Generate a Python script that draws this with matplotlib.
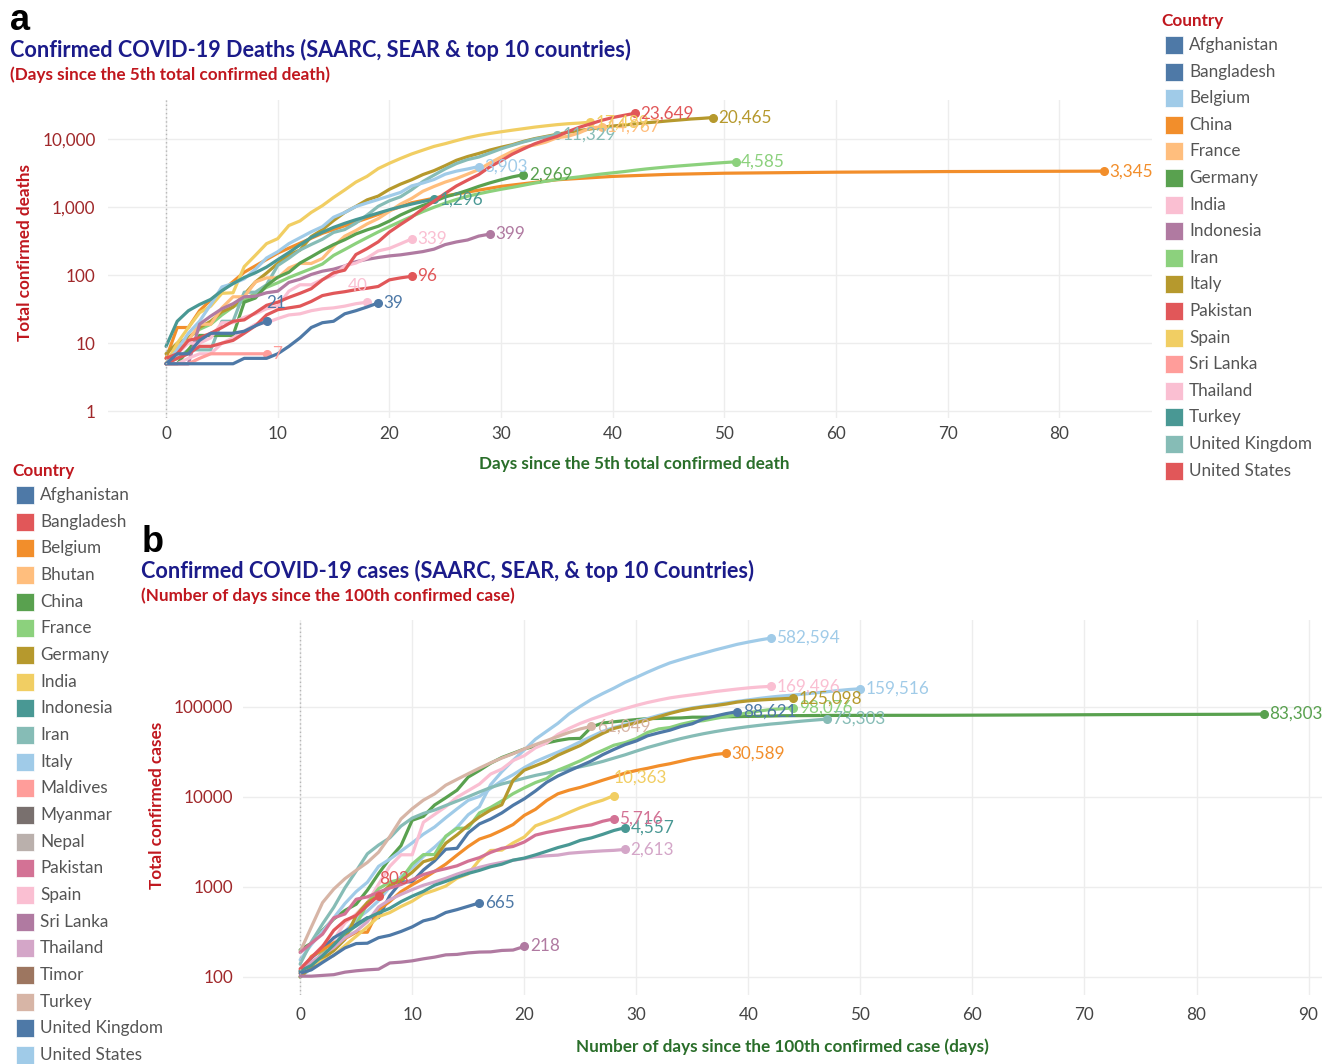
import matplotlib
matplotlib.use("Agg")
import matplotlib.pyplot as plt
from matplotlib.patches import Rectangle
from matplotlib.ticker import FixedLocator, NullLocator

plt.rcParams['font.family'] = ['Lato', 'DejaVu Sans']

W, H = 1326, 1064

# ---------------- panel a: deaths since 5th death ----------------
a_afghanistan = [5, 7, 7, 11, 14, 14, 14, 15, 18, 21]
a_bangladesh = [5, 5, 5, 5, 5, 5, 5, 6, 6, 6, 7, 9, 12, 17, 20, 21, 27, 30, 34, 39]
a_belgium = [5, 8, 14, 21, 37, 67, 75, 88, 122, 178, 220, 289, 353, 431, 513, 705, 828, 1011,
             1143, 1283, 1447, 1632, 2035, 2240, 2523, 3019, 3346, 3600, 3903]
a_china_days = [0, 1, 2, 3, 4, 6, 7, 10, 14, 18, 22, 25, 30, 35, 40, 45, 50, 60, 70, 84]
a_china = [6, 17, 17, 30, 43, 80, 110, 210, 410, 680, 1150, 1450, 2000, 2500, 2800, 3000, 3120,
           3230, 3300, 3345]
a_france = [5, 9, 11, 19, 19, 33, 48, 48, 79, 91, 91, 127, 148, 148, 175, 264, 372, 450, 562, 674,
            860, 1100, 1331, 1696, 1995, 2314, 2606, 3024, 3523, 4403, 5387, 6507, 7560, 8078,
            8911, 10328, 10869, 12210, 14393, 14967]
a_germany = [5, 5, 8, 13, 13, 13, 13, 40, 46, 70, 93, 110, 150, 185, 230, 280, 330, 400, 460, 520,
             620, 760, 900, 1050, 1200, 1400, 1550, 1750, 2000, 2250, 2500, 2750, 2969]
a_india = [5, 7, 10, 10, 12, 20, 20, 24, 27, 32, 35, 58, 72, 72, 86, 99, 136, 150, 178, 226, 246,
           288, 339]
a_indonesia = [5, 5, 5, 19, 25, 32, 38, 48, 49, 55, 58, 78, 87, 102, 114, 122, 136, 157, 170, 181,
               191, 198, 209, 221, 240, 280, 306, 327, 373, 399]
a_iran = [5, 8, 12, 16, 19, 26, 34, 43, 54, 66, 77, 92, 107, 124, 145, 194, 237, 291, 354, 429,
          514, 611, 724, 853, 988, 1135, 1284, 1433, 1556, 1685, 1812, 1934, 2077, 2234, 2378,
          2517, 2640, 2757, 2898, 3036, 3160, 3294, 3452, 3603, 3739, 3872, 3993, 4110, 4232,
          4357, 4474, 4585]
a_italy = [7, 10, 12, 17, 21, 29, 34, 52, 79, 107, 148, 197, 233, 366, 463, 631, 827, 1016, 1266,
           1441, 1809, 2158, 2503, 2978, 3405, 4032, 4825, 5476, 6077, 6820, 7503, 8165, 9134,
           10023, 10779, 11591, 12428, 13155, 13915, 14681, 15362, 15887, 16523, 17127, 17669,
           18279, 18849, 19468, 19899, 20465]
a_pakistan = [5, 6, 7, 9, 9, 10, 11, 14, 18, 26, 31, 33, 35, 41, 50, 54, 57, 61, 64, 68, 85, 91, 96]
a_spain = [5, 10, 17, 28, 35, 54, 55, 133, 195, 289, 342, 533, 623, 830, 1043, 1375, 1772, 2311,
           2808, 3647, 4365, 5138, 5982, 6803, 7716, 8464, 9387, 10348, 11198, 11947, 12641,
           13341, 14045, 14792, 15447, 16081, 16606, 16972, 17489]
a_sri_lanka = [5, 5, 5, 6, 7, 7, 7, 7, 7, 7]
a_thailand = [5, 5, 6, 7, 7, 10, 12, 15, 19, 20, 23, 26, 27, 30, 32, 33, 35, 38, 40]
a_turkey = [9, 21, 30, 37, 44, 59, 75, 92, 108, 131, 168, 214, 277, 356, 425, 501, 574, 649, 725,
            812, 908, 1006, 1101, 1198, 1296]
a_uk = [5, 6, 8, 8, 8, 21, 21, 56, 56, 72, 138, 177, 233, 281, 335, 422, 465, 578, 759, 1019,
        1228, 1408, 1789, 2357, 2926, 3611, 4320, 4943, 5385, 6171, 7111, 7993, 8958, 9875,
        10612, 11329]
a_us = [6, 7, 11, 12, 14, 17, 21, 22, 28, 36, 40, 47, 54, 63, 85, 108, 118, 200, 244, 307, 427,
        552, 706, 942, 1209, 1581, 2026, 2467, 2978, 3873, 4757, 5926, 7087, 8407, 9619, 10783,
        12722, 14695, 16478, 18586, 20463, 22020, 23649]

a_countries = ['Afghanistan', 'Bangladesh', 'Belgium', 'China', 'France', 'Germany', 'India',
               'Indonesia', 'Iran', 'Italy', 'Pakistan', 'Spain', 'Sri Lanka', 'Thailand',
               'Turkey', 'United Kingdom', 'United States']
a_colors = ['#4E79A7', '#4E79A7', '#A0CBE8', '#F28E2B', '#FFBE7D', '#59A14F', '#FABFD2',
            '#B07AA1', '#8CD17D', '#B6992D', '#E15759', '#F1CE63', '#FF9D9A', '#FABFD2',
            '#499894', '#86BCB6', '#E15759']

# ---------------- panel b: cases since 100th case ----------------
b_afghanistan = [110, 120, 145, 174, 210, 235, 237, 273, 290, 320, 360, 420, 450, 520, 560, 610, 665]
b_bangladesh = [123, 164, 218, 330, 424, 482, 621, 803]
b_belgium = [109, 169, 200, 239, 267, 314, 314, 559, 689, 886, 1058, 1243, 1486, 1795, 2257,
             2815, 3401, 3743, 4269, 4937, 6235, 7284, 9134, 10836, 11899, 12775, 13964, 15348,
             16770, 18431, 19691, 20814, 22194, 23403, 24983, 26667, 28018, 29647, 30589]
b_china_days = list(range(44)) + [47, 52, 57, 62, 67, 73, 78, 83, 86]
b_china = [200, 237, 330, 440, 548, 643, 920, 1406, 2075, 2877, 5509, 6087, 8141, 9802, 11891,
           16630, 19716, 23707, 27440, 30587, 34110, 36814, 39829, 42354, 44386, 44759, 59895,
           66358, 68413, 70513, 72434, 74211, 74619, 75077, 75550, 77001, 77022, 77241, 77754,
           78166, 78600, 78928, 79356, 79932,
           80537, 80757, 80860, 81250, 81661, 82279, 82602, 82941, 83303]
b_france = [100, 130, 191, 204, 288, 380, 656, 957, 1134, 1217, 1792, 2289, 2289, 3672, 4480,
            4513, 6650, 7652, 9043, 10871, 12612, 14459, 16018, 19856, 22304, 25233, 29155,
            32964, 37575, 40174, 44550, 52128, 56989, 59105, 64338, 68605, 70478, 74390, 78167,
            82048, 86334, 90276, 93790, 95403, 98076]
b_germany = [100, 130, 159, 196, 262, 482, 670, 799, 1040, 1176, 1457, 1908, 2078, 3062, 3795,
             4838, 6012, 7156, 8198, 15320, 19848, 22213, 24873, 29056, 32986, 37323, 43938,
             50871, 57695, 62095, 66885, 71808, 77872, 84794, 91159, 96092, 100123, 103374,
             107663, 113296, 117000, 119500, 121500, 123500, 125098]
b_india = [114, 137, 151, 173, 223, 283, 360, 468, 519, 606, 694, 834, 918, 1024, 1251, 1397,
           1998, 2543, 2567, 3082, 3588, 4778, 5311, 5916, 6725, 7598, 8446, 9205, 10363]
b_indonesia = [117, 134, 172, 227, 309, 369, 450, 514, 579, 686, 790, 893, 1046, 1155, 1285,
               1414, 1528, 1677, 1790, 1986, 2092, 2273, 2491, 2738, 2956, 3293, 3512, 3842,
               4241, 4557]
b_iran = [139, 245, 388, 593, 978, 1501, 2336, 2922, 3513, 4747, 5823, 6566, 7161, 8042, 9000,
          10075, 11364, 12729, 13938, 14991, 16169, 17361, 18407, 19644, 20610, 21638, 23049,
          24811, 27017, 29406, 32332, 35408, 38309, 41495, 44605, 47593, 50468, 53183, 55743,
          58226, 60500, 62589, 64586, 66220, 68192, 70029, 71686, 73303]
b_italy = [155, 229, 322, 453, 655, 888, 1128, 1694, 2036, 2502, 3089, 3858, 4636, 5883, 7375,
           9172, 10149, 12462, 15113, 17660, 21157, 24747, 27980, 31506, 35713, 41035, 47021,
           53578, 59138, 63927, 69176, 74386, 80589, 86498, 92472, 97689, 101739, 105792,
           110574, 115242, 119827, 124632, 128948, 132547, 135586, 139422, 143626, 147577,
           152271, 156363, 159516]
b_pakistan = [187, 237, 299, 454, 501, 730, 776, 875, 972, 1063, 1201, 1373, 1495, 1597, 1717,
              1938, 2118, 2421, 2686, 2818, 3157, 3766, 4035, 4263, 4489, 4695, 4892, 5374, 5716]
b_spain = [120, 165, 222, 259, 400, 500, 673, 1073, 1695, 2277, 2277, 5232, 6391, 7798, 9942,
           11748, 13910, 17963, 20410, 25374, 28768, 35136, 39885, 49515, 57786, 65719, 73235,
           80110, 87956, 95923, 104118, 112065, 119199, 126168, 131646, 136675, 141942, 148220,
           153222, 158273, 163027, 166831, 169496]
b_sri_lanka = [102, 102, 104, 106, 113, 117, 120, 122, 143, 146, 151, 159, 166, 176, 178, 185,
               189, 190, 197, 199, 218]
b_thailand = [114, 147, 177, 212, 272, 322, 411, 599, 721, 827, 934, 1045, 1136, 1245, 1388, 1524,
              1651, 1771, 1875, 1978, 2067, 2169, 2220, 2258, 2369, 2423, 2473, 2518, 2551, 2613]
b_turkey = [191, 359, 670, 947, 1236, 1529, 1872, 2433, 3629, 5698, 7402, 9217, 10827, 13531,
            15679, 18135, 20921, 23934, 27069, 30217, 34109, 38226, 42282, 47029, 52167, 56956,
            61049]
b_uk = [115, 163, 206, 273, 321, 382, 456, 456, 798, 1140, 1140, 1543, 1950, 2626, 2689, 3983,
        5018, 5683, 6650, 8077, 9529, 11658, 14543, 17089, 19522, 22141, 25150, 29474, 33718,
        38168, 41903, 47806, 51608, 55242, 60733, 65077, 73758, 78991, 84279, 88621]
b_us = [100, 124, 158, 221, 319, 435, 541, 704, 994, 1301, 1630, 2183, 2770, 3613, 4596, 6344,
        7801, 13680, 19101, 25493, 33276, 43847, 53740, 65778, 83836, 101657, 121478, 140886,
        161807, 188172, 213372, 243453, 275586, 308850, 337072, 366667, 396223, 429052, 461437,
        496535, 526396, 555313, 582594]

b_countries = ['Afghanistan', 'Bangladesh', 'Belgium', 'Bhutan', 'China', 'France', 'Germany',
               'India', 'Indonesia', 'Iran', 'Italy', 'Maldives', 'Myanmar', 'Nepal', 'Pakistan',
               'Spain', 'Sri Lanka', 'Thailand', 'Timor', 'Turkey', 'United Kingdom',
               'United States']
b_colors = ['#4E79A7', '#E15759', '#F28E2B', '#FFBE7D', '#59A14F', '#8CD17D', '#B6992D',
            '#F1CE63', '#499894', '#86BCB6', '#A0CBE8', '#FF9D9A', '#79706E', '#BAB0AC',
            '#D37295', '#FABFD2', '#B07AA1', '#D4A6C8', '#9D7660', '#D7B5A6', '#4E79A7',
            '#A0CBE8']

NAVY = '#1B1B8A'
RED = '#C0171E'
GREEN = '#2A6E2A'
TXT = '#555555'
FS = 12.3


def fx(x):
    return x / W


def fy(y):
    return 1 - y / H


def draw(ax, days, vals, color, lab_off=(4, 0), ha='left'):
    ax.plot(days, vals, color=color, lw=2.3, solid_capstyle='round', solid_joinstyle='round')
    ax.plot(days[-1], vals[-1], 'o', color=color, ms=5.5)
    ax.annotate(f"{vals[-1]:,}", (days[-1], vals[-1]), xytext=lab_off,
                textcoords='offset points', ha=ha, va='center', color=color, fontsize=FS)


def style(ax, xticks, yticks, ylabels):
    ax.set_yscale('log')
    for s in ax.spines.values():
        s.set_visible(False)
    ax.xaxis.set_major_locator(FixedLocator(xticks))
    ax.yaxis.set_major_locator(FixedLocator(yticks))
    ax.yaxis.set_minor_locator(NullLocator())
    ax.set_yticklabels(ylabels)
    ax.grid(True, color='#EDEDED', lw=1)
    ax.set_axisbelow(True)
    ax.tick_params(length=0, labelsize=FS)
    for t in ax.get_yticklabels():
        t.set_color('#A0282A')
    for t in ax.get_xticklabels():
        t.set_color('#444444')
    ax.axvline(0, color='#B5B5B5', ls=(0, (1, 2)), lw=1)


fig = plt.figure(figsize=(W / 100, H / 100), dpi=100)

# ---------- panel a ----------
axa = fig.add_axes([fx(108), fy(418), fx(1152) - fx(108), fy(100) - fy(418)])
rng = lambda v: list(range(len(v)))
draw(axa, a_china_days, a_china, '#F28E2B')
draw(axa, rng(a_iran), a_iran, '#8CD17D')
draw(axa, rng(a_italy), a_italy, '#B6992D')
draw(axa, rng(a_uk), a_uk, '#86BCB6')
draw(axa, rng(a_france), a_france, '#FFBE7D')
draw(axa, rng(a_spain), a_spain, '#F1CE63')
draw(axa, rng(a_belgium), a_belgium, '#A0CBE8')
draw(axa, rng(a_germany), a_germany, '#59A14F')
draw(axa, rng(a_turkey), a_turkey, '#499894')
draw(axa, rng(a_indonesia), a_indonesia, '#B07AA1')
draw(axa, rng(a_india), a_india, '#FABFD2')
draw(axa, rng(a_thailand), a_thailand, '#FABFD2', lab_off=(-7, 12), ha='center')
draw(axa, rng(a_sri_lanka), a_sri_lanka, '#FF9D9A')
draw(axa, rng(a_pakistan), a_pakistan, '#E15759')
draw(axa, rng(a_us), a_us, '#E15759')
draw(axa, rng(a_bangladesh), a_bangladesh, '#4E79A7')
draw(axa, rng(a_afghanistan), a_afghanistan, '#4E79A7', lab_off=(7, 13), ha='center')
axa.set_xlim(-5.2, 88.3)
axa.set_ylim(0.8, 37000)
style(axa, range(0, 81, 10), [1, 10, 100, 1000, 10000], ['1', '10', '100', '1,000', '10,000'])
axa.tick_params(axis='y', pad=9)
axa.tick_params(axis='x', pad=6)

# ---------- panel b ----------
axb = fig.add_axes([fx(243), fy(995), fx(1322) - fx(243), fy(620) - fy(995)])
draw(axb, b_china_days, b_china, '#59A14F')
draw(axb, rng(b_us), b_us, '#A0CBE8')
draw(axb, rng(b_italy), b_italy, '#A0CBE8')
draw(axb, rng(b_spain), b_spain, '#FABFD2')
draw(axb, rng(b_iran), b_iran, '#86BCB6')
draw(axb, rng(b_france), b_france, '#8CD17D')
draw(axb, rng(b_uk), b_uk, '#4E79A7')
draw(axb, rng(b_germany), b_germany, '#B6992D')
draw(axb, rng(b_turkey), b_turkey, '#D7B5A6')
draw(axb, rng(b_belgium), b_belgium, '#F28E2B')
draw(axb, rng(b_india), b_india, '#F1CE63', lab_off=(0, 13))
draw(axb, rng(b_thailand), b_thailand, '#D4A6C8')
draw(axb, rng(b_indonesia), b_indonesia, '#499894')
draw(axb, rng(b_pakistan), b_pakistan, '#D37295')
draw(axb, rng(b_afghanistan), b_afghanistan, '#4E79A7')
draw(axb, rng(b_sri_lanka), b_sri_lanka, '#B07AA1')
draw(axb, rng(b_bangladesh), b_bangladesh, '#E15759', lab_off=(11, 12), ha='center')
axb.set_xlim(-5.1, 91.2)
axb.set_ylim(63, 926000)
style(axb, range(0, 91, 10), [100, 1000, 10000, 100000], ['100', '1000', '10000', '100000'])
axb.tick_params(axis='y', pad=7)
axb.tick_params(axis='x', pad=9)

# ---------- titles ----------
fig.text(fx(10), fy(20), 'a', fontsize=26, fontweight='bold', family='Liberation Sans',
         va='center', ha='left', color='black')
fig.text(fx(10), fy(50), 'Confirmed COVID-19 Deaths (SAARC, SEAR & top 10 countries)',
         fontsize=15.6, fontweight='bold', color=NAVY, va='center', ha='left')
fig.text(fx(10), fy(75), '(Days since the 5th total confirmed death)', fontsize=FS,
         fontweight='bold', color=RED, va='center', ha='left')
fig.text(fx(25), fy(253), 'Total confirmed deaths', rotation=90, fontsize=FS,
         fontweight='bold', color=RED, va='center', ha='center')
fig.text(fx(634), fy(464), 'Days since the 5th total confirmed death', fontsize=FS,
         fontweight='bold', color=GREEN, va='center', ha='center')

fig.text(fx(142), fy(543), 'b', fontsize=26, fontweight='bold', family='Liberation Sans',
         va='center', ha='left', color='black')
fig.text(fx(141), fy(571), 'Confirmed COVID-19 cases (SAARC, SEAR, & top 10 Countries)',
         fontsize=15.6, fontweight='bold', color=NAVY, va='center', ha='left')
fig.text(fx(141), fy(596), '(Number of days since the 100th confirmed case)', fontsize=FS,
         fontweight='bold', color=RED, va='center', ha='left')
fig.text(fx(157), fy(805), 'Total confirmed cases', rotation=90, fontsize=FS,
         fontweight='bold', color=RED, va='center', ha='center')
fig.text(fx(782), fy(1047), 'Number of days since the 100th confirmed case (days)',
         fontsize=FS, fontweight='bold', color=GREEN, va='center', ha='center')

# ---------- legends ----------
def legend(x0, y0, names, colors, step):
    fig.text(fx(x0 - 4), fy(y0 - 24), 'Country', fontsize=FS, fontweight='bold', color=RED,
             va='center', ha='left')
    for i, (n, c) in enumerate(zip(names, colors)):
        yc = y0 + i * step
        fig.add_artist(Rectangle((fx(x0), fy(yc + 9)), 18 / W, 18 / H, transform=fig.transFigure,
                                 facecolor=c, edgecolor='white', lw=0.5))
        fig.text(fx(x0 + 24), fy(yc), n, fontsize=FS, color=TXT, va='center', ha='left')


legend(1165, 45, a_countries, a_colors, 26.6)
legend(16, 495, b_countries, b_colors, 26.67)

fig.savefig('out.png', dpi=100)
